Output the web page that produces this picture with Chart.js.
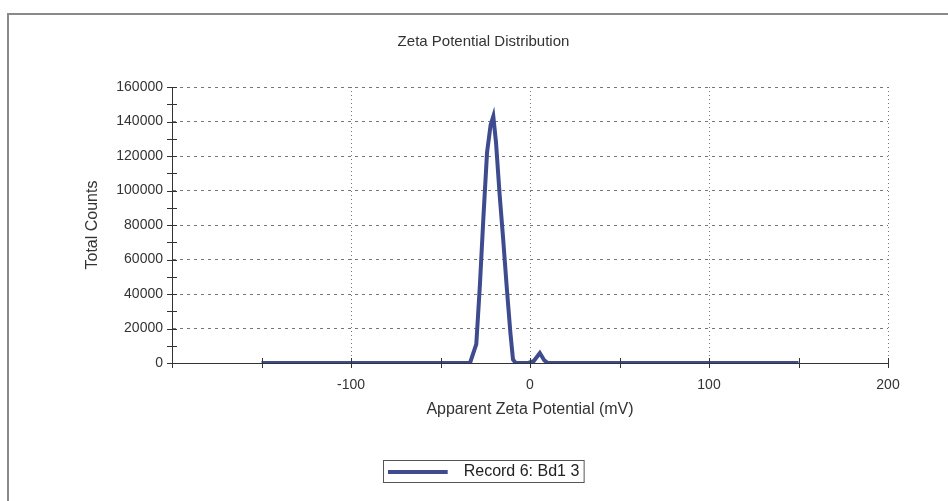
<!DOCTYPE html>
<html>
<head>
<meta charset="utf-8">
<title>Zeta Potential Distribution</title>
<script src="https://cdn.jsdelivr.net/npm/chart.js@4"></script>
<style>
  html, body { margin: 0; padding: 0; background: #fff; overflow: hidden; }
  #wrap { position: relative; width: 948px; height: 501px; }
  #frame {
    position: absolute; left: 7px; top: 13px; right: -10px; bottom: -10px;
    border-top: 2px solid #8a8a8a; border-left: 2px solid #8a8a8a;
    pointer-events: none;
  }
</style>
</head>
<body>
<div id="wrap">
  <canvas id="zetaChart" width="948" height="501"></canvas>
  <div id="frame"></div>
</div>
<script>
// --- data ---
const zetaMv = [-150, -33.5, -30, -28, -26, -24, -22, -20.5, -19, -17, -15, -13, -11, -9.5, -8, -1, 2, 5.5, 8, 10, 150];
const totalCounts = [0, 0, 11000, 45000, 85000, 122000, 138000, 143000, 128000, 98000, 72000, 44000, 18000, 2000, 0, 0, 1000, 5800, 1500, 0, 0];
const xTicks = [-100, 0, 100, 200];
const yTicks = [0, 20000, 40000, 60000, 80000, 100000, 120000, 140000, 160000];
const seriesName = 'Record 6: Bd1 3';

const lineColor = '#3e4b8e';
const textColor = '#333';
const family = 'Liberation Sans, Arial, sans-serif';
const tickFont = { family: family, size: 14 };
const labelFont = { family: family, size: 16 };

// legend sample: a short thick line with a gap before the text
const legendLine = document.createElement('canvas');
legendLine.width = 68;
legendLine.height = 6;
const lctx = legendLine.getContext('2d');
lctx.fillStyle = lineColor;
lctx.fillRect(0, 1, 60, 4);

// ticks that cross the axis lines, like the original software draws them
const crossTicks = {
  id: 'crossTicks',
  afterDraw(chart) {
    const { ctx, chartArea, scales: { x, y } } = chart;
    ctx.save();
    ctx.strokeStyle = '#333';
    ctx.lineWidth = 1;
    ctx.beginPath();
    for (let v = 0; v <= 160000; v += 10000) {
      const py = Math.round(y.getPixelForValue(v)) + 0.5;
      ctx.moveTo(chartArea.left - 5, py);
      ctx.lineTo(chartArea.left + 5, py);
    }
    for (let v = -200; v <= 200; v += 50) {
      const px = Math.round(x.getPixelForValue(v)) + 0.5;
      ctx.moveTo(px, chartArea.bottom - 5);
      ctx.lineTo(px, chartArea.bottom + 5);
    }
    ctx.stroke();
    ctx.restore();
  }
};

// box round the legend
const legendBox = {
  id: 'legendBox',
  afterDraw(chart) {
    const hb = chart.legend.legendHitBoxes[0];
    if (!hb) return;
    const ctx = chart.ctx;
    ctx.save();
    ctx.strokeStyle = '#555';
    ctx.lineWidth = 1;
    ctx.strokeRect(Math.round(hb.left) - 4.5, Math.round(hb.top) - 3.5, hb.width + 9, hb.height + 6);
    ctx.restore();
  }
};

const ctx = document.getElementById('zetaChart').getContext('2d');
new Chart(ctx, {
  type: 'line',
  data: {
    datasets: [{
      label: seriesName,
      data: zetaMv.map((v, i) => ({ x: v, y: totalCounts[i] })),
      borderColor: lineColor,
      backgroundColor: lineColor,
      borderWidth: 4,
      pointRadius: 0,
      tension: 0,
      fill: false
    }]
  },
  options: {
    responsive: false,
    animation: false,
    layout: { padding: { left: 79, right: 60, top: 25, bottom: 11 } },
    plugins: {
      title: {
        display: true,
        text: 'Zeta Potential Distribution',
        color: textColor,
        font: { family: family, size: 15, weight: 'normal' },
        padding: { top: 8, bottom: 36 }
      },
      legend: {
        position: 'bottom',
        labels: {
          color: '#222',
          font: labelFont,
          usePointStyle: true,
          pointStyle: legendLine,
          pointStyleWidth: 68,
          padding: 41
        }
      },
      tooltip: { enabled: false }
    },
    scales: {
      x: {
        type: 'linear',
        min: -200,
        max: 200,
        ticks: {
          stepSize: 50,
          color: textColor,
          font: tickFont,
          padding: 14,
          maxRotation: 0,
          callback: v => (xTicks.includes(v) ? v : '')
        },
        grid: {
          drawTicks: false,
          color: c => (c.tick && xTicks.includes(c.tick.value) ? '#777' : 'transparent')
        },
        border: { display: true, color: '#333', width: 1, dash: [1, 3] },
        title: {
          display: true,
          text: 'Apparent Zeta Potential (mV)',
          color: textColor,
          font: labelFont,
          padding: { top: -8, bottom: 4 }
        }
      },
      y: {
        min: 0,
        max: 160000,
        afterFit: s => { s.width = 93; },
        ticks: {
          stepSize: 10000,
          color: textColor,
          font: tickFont,
          padding: 9,
          callback: v => (yTicks.includes(v) ? v : '')
        },
        grid: {
          drawTicks: false,
          color: c => (c.tick && c.tick.value > 0 && yTicks.includes(c.tick.value) ? '#777' : 'transparent')
        },
        border: { display: true, color: '#333', width: 1, dash: [3, 4] },
        title: {
          display: true,
          text: 'Total Counts',
          color: textColor,
          font: labelFont,
          padding: { top: 4, bottom: 4 }
        }
      }
    }
  },
  plugins: [crossTicks, legendBox]
});
</script>
</body>
</html>
